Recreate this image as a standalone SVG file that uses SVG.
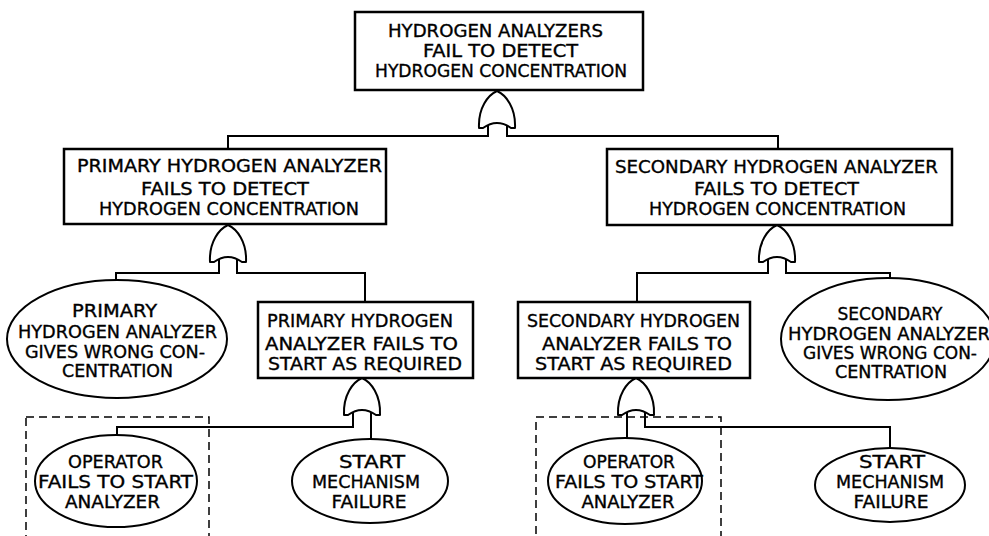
<svg xmlns="http://www.w3.org/2000/svg" xmlns:xlink="http://www.w3.org/1999/xlink" width="989" height="536" viewBox="0 0 989 536">
<style>
.box{fill:#fff;stroke:#000;stroke-width:2.5}
.ell{fill:#fff;stroke:#000;stroke-width:2}
.gate{fill:#fff;stroke:#000;stroke-width:2;stroke-linejoin:round}
.con{fill:none;stroke:#000;stroke-width:2}
.dash{fill:none;stroke:#000;stroke-width:1.5;stroke-dasharray:8 5}
text{font-family:"DejaVu Sans","Liberation Sans",sans-serif;font-size:17px;fill:#000;stroke:#000;stroke-width:0.35;text-anchor:middle}
</style>
<defs>
<path id="orgate" class="gate" d="M -18 37 C -19 17 -9 4 0 0 C 9 4 19 17 18 37 L 14 37 Q 0 27 -14 37 Z"/>
</defs>
<rect width="989" height="536" fill="#fff"/>
<g id="connectors">
<path class="con" d="M 488 124 V 136 H 228 V 149"/>
<path class="con" d="M 507 124 V 136 H 778 V 149"/>
<path class="con" d="M 219 258 V 273 H 116 V 280"/>
<path class="con" d="M 237 258 V 273 H 365 V 302"/>
<path class="con" d="M 768 258 V 273 H 637 V 302"/>
<path class="con" d="M 786 258 V 273 H 890 V 279"/>
<path class="con" d="M 353 411 V 427 H 117 V 435"/>
<path class="con" d="M 371 411 V 440"/>
<path class="con" d="M 627 411 V 438"/>
<path class="con" d="M 645 411 V 427 H 890 V 448"/>
</g>
<g id="gates">
<use xlink:href="#orgate" x="497" y="91"/>
<use xlink:href="#orgate" x="228" y="225"/>
<use xlink:href="#orgate" x="777" y="225"/>
<use xlink:href="#orgate" x="362" y="378"/>
<use xlink:href="#orgate" x="636" y="378"/>
</g>
<g id="top">
<rect class="box" x="355" y="12" width="288" height="78"/>
<text x="495.5" y="37" textLength="215" lengthAdjust="spacingAndGlyphs">HYDROGEN ANALYZERS</text>
<text x="500.5" y="57" textLength="155" lengthAdjust="spacingAndGlyphs">FAIL TO DETECT</text>
<text x="501" y="77" textLength="252" lengthAdjust="spacingAndGlyphs">HYDROGEN CONCENTRATION</text>
</g>
<g id="primary">
<rect class="box" x="64" y="149" width="322" height="75"/>
<text x="229.5" y="172" textLength="305" lengthAdjust="spacingAndGlyphs">PRIMARY HYDROGEN ANALYZER</text>
<text x="225" y="195" textLength="168" lengthAdjust="spacingAndGlyphs">FAILS TO DETECT</text>
<text x="229" y="215" textLength="260" lengthAdjust="spacingAndGlyphs">HYDROGEN CONCENTRATION</text>
</g>
<g id="secondary">
<rect class="box" x="607" y="149" width="345" height="76"/>
<text x="776.5" y="173" textLength="323" lengthAdjust="spacingAndGlyphs">SECONDARY HYDROGEN ANALYZER</text>
<text x="776.5" y="195" textLength="165" lengthAdjust="spacingAndGlyphs">FAILS TO DETECT</text>
<text x="777.5" y="215" textLength="257" lengthAdjust="spacingAndGlyphs">HYDROGEN CONCENTRATION</text>
</g>
<g id="primary-wrong">
<ellipse class="ell" cx="117" cy="339" rx="110" ry="59"/>
<text x="114.5" y="317" textLength="85" lengthAdjust="spacingAndGlyphs">PRIMARY</text>
<text x="117.5" y="338" textLength="199" lengthAdjust="spacingAndGlyphs">HYDROGEN ANALYZER</text>
<text x="115" y="358" textLength="180" lengthAdjust="spacingAndGlyphs">GIVES WRONG CON-</text>
<text x="117.5" y="377" textLength="111" lengthAdjust="spacingAndGlyphs">CENTRATION</text>
</g>
<g id="primary-start">
<rect class="box" x="258" y="302" width="215" height="76"/>
<text x="360" y="327" textLength="186" lengthAdjust="spacingAndGlyphs">PRIMARY HYDROGEN</text>
<text x="361.5" y="350" textLength="193" lengthAdjust="spacingAndGlyphs">ANALYZER FAILS TO</text>
<text x="365" y="370" textLength="194" lengthAdjust="spacingAndGlyphs">START AS REQUIRED</text>
</g>
<g id="secondary-start">
<rect class="box" x="518" y="302" width="232" height="76"/>
<text x="633.5" y="327" textLength="213" lengthAdjust="spacingAndGlyphs">SECONDARY HYDROGEN</text>
<text x="637" y="350" textLength="190" lengthAdjust="spacingAndGlyphs">ANALYZER FAILS TO</text>
<text x="633.5" y="370" textLength="197" lengthAdjust="spacingAndGlyphs">START AS REQUIRED</text>
</g>
<g id="secondary-wrong">
<ellipse class="ell" cx="888" cy="339" rx="107" ry="61"/>
<text x="890" y="320" textLength="105" lengthAdjust="spacingAndGlyphs">SECONDARY</text>
<text x="889" y="340" textLength="202" lengthAdjust="spacingAndGlyphs">HYDROGEN ANALYZER</text>
<text x="890" y="359" textLength="174" lengthAdjust="spacingAndGlyphs">GIVES WRONG CON-</text>
<text x="891" y="378" textLength="112" lengthAdjust="spacingAndGlyphs">CENTRATION</text>
</g>
<g id="operator-left">
<rect class="dash" x="26" y="417" width="183" height="140"/>
<ellipse class="ell" cx="116" cy="481" rx="81" ry="46"/>
<text x="115.5" y="468" textLength="95" lengthAdjust="spacingAndGlyphs">OPERATOR</text>
<text x="115.5" y="488" textLength="155" lengthAdjust="spacingAndGlyphs">FAILS TO START</text>
<text x="112.5" y="508" textLength="95" lengthAdjust="spacingAndGlyphs">ANALYZER</text>
</g>
<g id="start-mech-left">
<ellipse class="ell" cx="370" cy="481" rx="78" ry="42"/>
<text x="372" y="468" textLength="66" lengthAdjust="spacingAndGlyphs">START</text>
<text x="366" y="488" textLength="108" lengthAdjust="spacingAndGlyphs">MECHANISM</text>
<text x="369" y="508" textLength="75" lengthAdjust="spacingAndGlyphs">FAILURE</text>
</g>
<g id="operator-right">
<rect class="dash" x="536" y="417" width="185" height="140"/>
<ellipse class="ell" cx="625" cy="481" rx="77" ry="43"/>
<text x="629" y="468" textLength="92" lengthAdjust="spacingAndGlyphs">OPERATOR</text>
<text x="629" y="488" textLength="148" lengthAdjust="spacingAndGlyphs">FAILS TO START</text>
<text x="628" y="508" textLength="93" lengthAdjust="spacingAndGlyphs">ANALYZER</text>
</g>
<g id="start-mech-right">
<ellipse class="ell" cx="890" cy="485" rx="75" ry="37"/>
<text x="892" y="468" textLength="66" lengthAdjust="spacingAndGlyphs">START</text>
<text x="890" y="488" textLength="108" lengthAdjust="spacingAndGlyphs">MECHANISM</text>
<text x="891" y="508" textLength="75" lengthAdjust="spacingAndGlyphs">FAILURE</text>
</g>
</svg>
